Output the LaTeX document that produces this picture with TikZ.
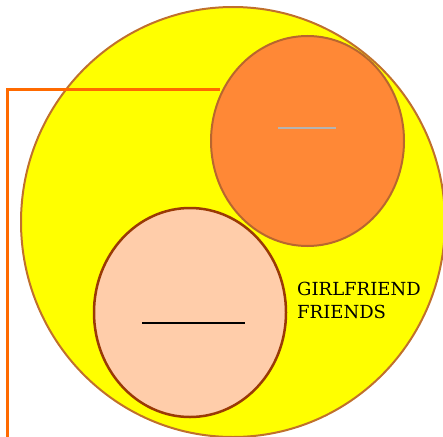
\documentclass[tikz,border=0pt]{standalone}
\usepackage{fontspec}
\newfontfamily\lblfamily{DejaVu Serif}
\usetikzlibrary{shapes.geometric}
\definecolor{bigfill}{HTML}{FFFF00}
\definecolor{bigdraw}{HTML}{C0702C}
\definecolor{orfill}{HTML}{FF8836}
\definecolor{ordraw}{HTML}{B8662E}
\definecolor{pcfill}{HTML}{FFCDAA}
\definecolor{pcdraw}{HTML}{9A3A06}
\definecolor{linkcol}{HTML}{FF6A00}
\definecolor{bargray}{HTML}{B4B4B4}
\tikzset{
  blob/.style={ellipse, inner sep=0pt, outer sep=0pt},
  link/.style={draw=linkcol, line width=3pt},
  lbl/.style={inner sep=0pt}
}
\newcommand{\lblfont}{\lblfamily\fontsize{18pt}{23pt}\selectfont}
\begin{document}
\begin{tikzpicture}[x=1pt,y=-1pt]
\useasboundingbox (0,0) rectangle (443,436);
\clip (0,0) rectangle (443,436);
\node[blob, fill=bigfill, draw=bigdraw, line width=2pt, minimum width=424pt, minimum height=430pt] (big) at (233,222) {};
\coordinate (start) at (7.5,440);
\coordinate (end) at (220,89.5);
\draw[link] (start) |- (end);
\node[blob, fill=orfill, draw=ordraw, line width=2pt, minimum width=193pt, minimum height=210pt] (orange) at (307.5,141) {};
\node[blob, fill=pcfill, draw=pcdraw, line width=2.5pt, minimum width=192pt, minimum height=209pt] (peach) at (190,312.5) {};
\coordinate (g1) at (278,128);
\coordinate (g2) at (336,128);
\draw[bargray, line width=2pt] (g1) -- (g2);
\coordinate (b1) at (142,323);
\coordinate (b2) at (245,323);
\draw[black, line width=1.3pt] (b1) -- (b2);
\node[lbl, anchor=base west] (txt1) at (297,295) {\lblfont GIRLFRIEND};
\node[lbl, anchor=base west] (txt2) at (297,318) {\lblfont FRIENDS};
\end{tikzpicture}
\end{document}
